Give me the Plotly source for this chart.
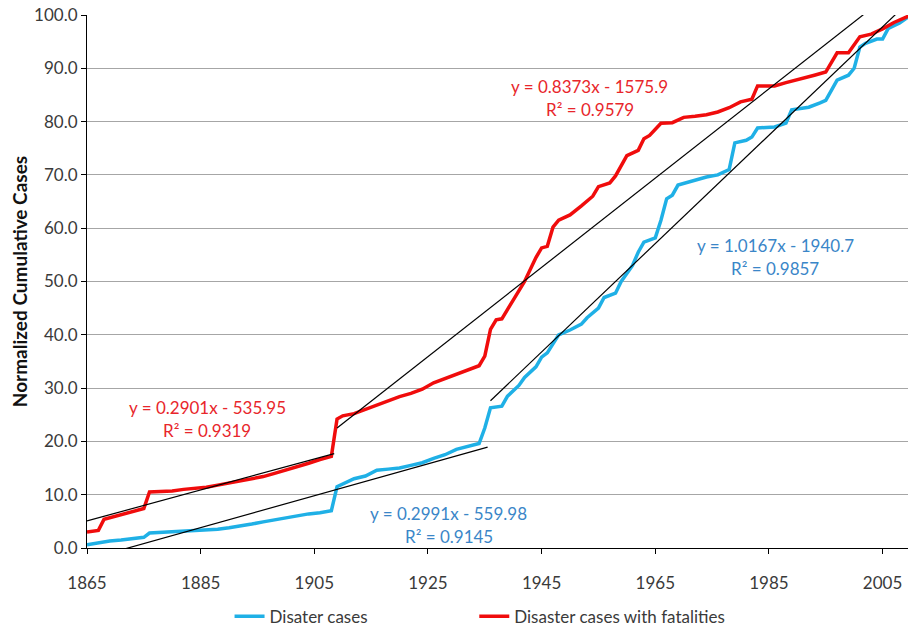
import plotly.graph_objects as go

# ---- data ----
red_years = [1865, 1866, 1867, 1868, 1869, 1870, 1872, 1874, 1875, 1876, 1878, 1880, 1882, 1884,
             1886, 1888, 1890, 1892, 1894, 1896, 1898, 1900, 1902, 1904, 1906, 1908, 1909, 1910,
             1912, 1914, 1916, 1918, 1920, 1922, 1924, 1926, 1928, 1930, 1932, 1934, 1935, 1936,
             1937, 1938, 1940, 1942, 1944, 1945, 1946, 1947, 1948, 1950, 1952, 1954, 1955, 1957,
             1958, 1959, 1960, 1962, 1963, 1964, 1966, 1968, 1970, 1972, 1974, 1976, 1978, 1980,
             1982, 1983, 1986, 1988, 1990, 1993, 1995, 1997, 1999, 2001, 2003, 2005, 2007, 2010]
red_values = [3.0, 3.1, 3.3, 5.4, 5.7, 6.0, 6.6, 7.1, 7.4, 10.5, 10.6, 10.7, 11.0, 11.2,
              11.4, 11.8, 12.2, 12.5, 12.9, 13.4, 14.0, 14.6, 15.2, 15.9, 16.6, 17.2, 24.2, 24.8,
              25.2, 26.0, 26.8, 27.5, 28.4, 29.0, 29.8, 31.0, 31.8, 32.6, 33.4, 34.2, 36.0, 41.0,
              42.8, 43.0, 46.5, 50.0, 54.5, 56.3, 56.6, 60.2, 61.5, 62.5, 64.2, 66.0, 67.8, 68.5,
              69.8, 71.8, 73.6, 74.6, 76.8, 77.4, 79.7, 79.8, 80.8, 81.0, 81.3, 81.8, 82.6, 83.7,
              84.2, 86.7, 86.7, 87.3, 87.8, 88.7, 89.3, 92.9, 92.9, 95.9, 96.4, 97.4, 98.6, 100.0]

blue_years = [1865, 1867, 1869, 1871, 1873, 1875, 1876, 1878, 1880, 1882, 1884, 1886, 1888, 1890,
              1892, 1894, 1896, 1898, 1900, 1902, 1904, 1906, 1908, 1909, 1910, 1912, 1914, 1916,
              1918, 1920, 1922, 1924, 1926, 1928, 1930, 1932, 1934, 1935, 1936, 1938, 1939, 1941,
              1942, 1944, 1945, 1946, 1948, 1950, 1952, 1953, 1955, 1956, 1958, 1959, 1961, 1962,
              1963, 1965, 1966, 1967, 1968, 1969, 1972, 1974, 1976, 1978, 1979, 1981, 1982, 1983,
              1986, 1988, 1989, 1992, 1994, 1995, 1997, 1999, 2000, 2001, 2002, 2004, 2005, 2006,
              2008, 2010]
blue_values = [0.6, 1.0, 1.3, 1.5, 1.8, 2.0, 2.8, 2.9, 3.0, 3.1, 3.2, 3.3, 3.5, 3.8,
               4.1, 4.5, 4.9, 5.3, 5.7, 6.1, 6.4, 6.6, 7.0, 11.5, 12.0, 13.0, 13.5, 14.6,
               14.8, 15.0, 15.5, 16.0, 16.8, 17.5, 18.5, 19.0, 19.6, 22.5, 26.3, 26.6, 28.5, 30.5,
               32.0, 34.0, 35.8, 36.6, 40.0, 40.9, 42.0, 43.2, 45.0, 47.0, 47.8, 50.0, 53.0, 55.5,
               57.4, 58.2, 61.5, 65.5, 66.2, 68.1, 69.0, 69.6, 70.0, 71.0, 76.0, 76.5, 77.1, 78.8,
               79.0, 79.7, 82.2, 82.7, 83.5, 84.0, 87.8, 88.7, 90.0, 94.0, 94.7, 95.5, 95.5, 97.5,
               98.5, 100.0]

# trend lines: slope, intercept, fitted year span, R^2, label anchor
trend_slopes = [0.2901, 0.8373, 0.2991, 1.0167]
trend_intercepts = [-535.95, -1575.9, -559.98, -1940.7]
trend_starts = [1865, 1909, 1865, 1936]
trend_ends = [1908.5, 2010, 1935.5, 2010]
trend_r2 = [0.9319, 0.9579, 0.9145, 0.9857]
label_x = [1886.2, 1953.5, 1928.7, 1986.1]
label_y = [26.3, 86.5, 6.4, 56.7]

x_ticks = [1865, 1885, 1905, 1925, 1945, 1965, 1985, 2005]
y_ticks = [0, 10, 20, 30, 40, 50, 60, 70, 80, 90, 100]

BLUE = "#1fb0e6"
RED = "#f00c0c"
BLUE_TXT = "#3a86c8"
RED_TXT = "#e8262b"
TXT = "#3a3a3a"
FONT = "Lato, 'Open Sans', sans-serif"

fig = go.Figure()
fig.add_trace(go.Scatter(x=blue_years, y=blue_values, mode="lines", name="Disater cases",
                         line=dict(color=BLUE, width=3.5), legend="legend"))
fig.add_trace(go.Scatter(x=red_years, y=red_values, mode="lines", name="Disaster cases with fatalities",
                         line=dict(color=RED, width=3.5), legend="legend2"))

for i in range(len(trend_slopes)):
    xs = [trend_starts[i], trend_ends[i]]
    ys = [trend_slopes[i] * x + trend_intercepts[i] for x in xs]
    fig.add_trace(go.Scatter(x=xs, y=ys, mode="lines", showlegend=False,
                             line=dict(color="black", width=1.2), hoverinfo="skip"))
    col = RED_TXT if i < 2 else BLUE_TXT
    sign = "-" if trend_intercepts[i] < 0 else "+"
    eq = f"y = {trend_slopes[i]:.4f}x {sign} {abs(trend_intercepts[i]):g}"
    fig.add_annotation(x=label_x[i], y=label_y[i], text=eq, showarrow=False,
                       font=dict(color=col, size=17, family=FONT), xanchor="center", yanchor="middle")
    fig.add_annotation(x=label_x[i], y=label_y[i] - 4.3, text=f"R² = {trend_r2[i]:.4f}", showarrow=False,
                       font=dict(color=col, size=17, family=FONT), xanchor="center", yanchor="middle")

leg_common = dict(orientation="h", y=-0.129, yanchor="middle", xanchor="left",
                  font=dict(size=17, color=TXT, family=FONT), bgcolor="rgba(0,0,0,0)")

fig.update_layout(
    width=916, height=627,
    margin=dict(l=79, r=13, t=7, b=87, autoexpand=False),
    paper_bgcolor="white", plot_bgcolor="white",
    font=dict(family=FONT, size=17, color=TXT),
    showlegend=True,
    legend=dict(x=0.173, **leg_common),
    legend2=dict(x=0.470, **leg_common),
    xaxis=dict(range=[1865, 2010], tickvals=x_ticks, showgrid=False, showline=True,
               linecolor="black", linewidth=1.2, ticks="outside", ticklen=5, tickcolor="black",
               tickfont=dict(size=17, color=TXT), zeroline=False, ticklabelstandoff=14,
               ticklabeloverflow="allow"),
    yaxis=dict(range=[0, 100], tickvals=y_ticks, tickformat=".1f", showgrid=True,
               gridcolor="#a6a6a6", gridwidth=1.2, showline=True, linecolor="black", linewidth=1.2,
               ticks="outside", ticklen=5, tickcolor="black", zeroline=False,
               tickfont=dict(size=17, color=TXT), ticklabeloverflow="allow",
               title=dict(text="<b>Normalized Cumulative Cases</b>", font=dict(size=19, color="#111111"),
                          standoff=4)),
)

fig.write_html("out.html")
